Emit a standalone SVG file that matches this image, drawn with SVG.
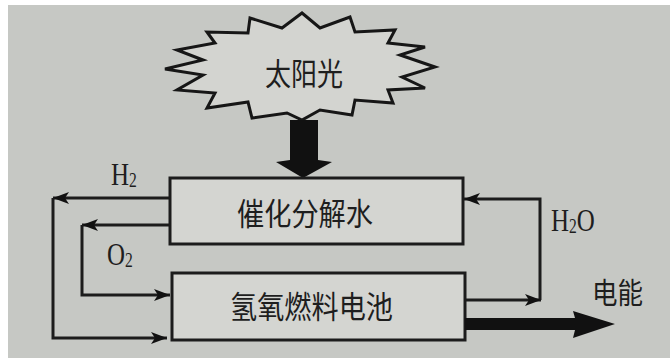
<svg xmlns="http://www.w3.org/2000/svg" width="670" height="358" viewBox="0 0 670 358">
<defs>
<style>
.bg{fill:#c6c8c4}
.box{fill:#d4d5d1;stroke:#1c1c1c;stroke-width:3}
.ln{fill:none;stroke:#1c1c1c;stroke-width:3}
.cn{font-family:"Noto Sans CJK SC","Noto Sans CJK TC",sans-serif;fill:#1e1e1e}
.lat{font-family:"Liberation Serif","DejaVu Serif",serif;fill:#1e1e1e}
.ah{fill:#111}
</style>
<marker id="arr" viewBox="0 0 16 12" refX="16" refY="6" markerWidth="16" markerHeight="12" markerUnits="userSpaceOnUse" orient="auto">
<path d="M0,0 L16,6 L0,12 L4,6 Z" fill="#111"/>
</marker>
</defs>
<rect x="0" y="0" width="670" height="358" fill="#ffffff"/>
<rect class="bg" x="8" y="5" width="662" height="353"/>

<g id="sun">
<polygon points="302,13 320,28 350,17 355,32 395,30 388,43 425,47 400,55 435,67 402,77 425,88 388,90 393,103 355,100 352,115 320,110 302,120 287,113 252,118 248,102 207,108 215,93 177,90 203,75 165,69 203,60 177,50 215,43 207,32 248,33 250,18 282,28" fill="#d3d4d0" stroke="#161616" stroke-width="3" stroke-linejoin="miter"/>
<text class="cn" x="265" y="85" font-size="31" textLength="78" lengthAdjust="spacingAndGlyphs">太阳光</text>
</g>

<g id="sun-arrow">
<polygon class="ah" points="290,120 318,120 318,160 332,162 303,178 276,162 290,160"/>
</g>

<g id="box-split">
<rect class="box" x="170" y="178" width="293" height="66"/>
<text class="cn" x="237" y="225" font-size="31" textLength="136" lengthAdjust="spacingAndGlyphs">催化分解水</text>
</g>

<g id="box-cell">
<rect class="box" x="172" y="273" width="293" height="67"/>
<text class="cn" x="230" y="318" font-size="31" textLength="163" lengthAdjust="spacingAndGlyphs">氢氧燃料电池</text>
</g>

<g id="connectors">
<path class="ln" d="M170,198 H53" marker-end="url(#arr)"/>
<path class="ln" d="M53,198 V338 H167" marker-end="url(#arr)"/>
<path class="ln" d="M170,225 H82" marker-end="url(#arr)"/>
<path class="ln" d="M82,225 V295 H170" marker-end="url(#arr)"/>
<path class="ln" d="M540,300 V199 H464" marker-end="url(#arr)"/>
<path class="ln" d="M465,300 H541" marker-end="url(#arr)"/>
<polygon class="ah" points="465,318 575,318 573,311 615,324 573,338 575,330 465,330"/>
</g>

<g id="labels">
<text class="lat" transform="translate(111,185) scale(0.78,1)" font-size="32">H<tspan font-size="20" dy="2">2</tspan></text>
<text class="lat" transform="translate(107,265) scale(0.78,1)" font-size="32">O<tspan font-size="20" dy="2">2</tspan></text>
<text class="lat" transform="translate(551,231) scale(0.78,1)" font-size="32">H<tspan font-size="20" dy="2">2</tspan><tspan dy="-2">O</tspan></text>
<text class="cn" x="592" y="304" font-size="29" textLength="51" lengthAdjust="spacingAndGlyphs">电能</text>
</g>
</svg>
